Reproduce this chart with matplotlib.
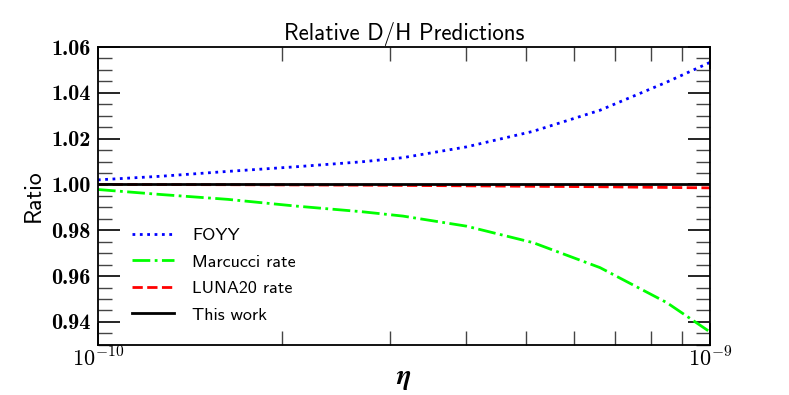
#!/usr/bin/env python3

import numpy as np
from matplotlib import pyplot as plt
from matplotlib.ticker import MultipleLocator, LogLocator, NullFormatter

plt.rcParams['mathtext.fontset'] = 'cm'
plt.rcParams['axes.unicode_minus'] = False

# eta values (baryon-to-photon ratio) and ratio readings
eta = np.array([1.0, 1.27, 1.63, 2.10, 2.70, 3.15, 4.0, 5.14, 6.61, 8.5, 10.0]) * 1e-10
foyy = [1.0020, 1.0036, 1.0057, 1.0077, 1.0099, 1.0117, 1.0164, 1.0232, 1.0324, 1.0447, 1.0533]
marcucci = [0.9978, 0.9956, 0.9935, 0.9906, 0.9881, 0.9862, 0.9818, 0.9746, 0.9637, 0.9484, 0.9356]
luna20 = [1.0000, 0.99995, 0.9999, 0.9998, 0.9997, 0.9996, 0.9994, 0.9992, 0.9990, 0.9987, 0.9985]
this_work = [1.0] * len(eta)

yticks = [0.94, 0.96, 0.98, 1.00, 1.02, 1.04, 1.06]
ytick_labels = ['%.2f' % v for v in yticks]
xticks = [1e-10, 1e-9]
xtick_labels = [r'$10^{-10}$', r'$10^{-9}$']

sans = 'cmss10'

fig, ax = plt.subplots(figsize=(7.89, 3.95), dpi=100)
fig.subplots_adjust(left=0.124, right=0.900, top=0.881, bottom=0.127)

ax.plot(eta, foyy, color='#0000ff', ls=':', lw=2, label='FOYY')
ax.plot(eta, marcucci, color='#00ff00', ls='-.', lw=2, label='Marcucci rate')
ax.plot(eta, luna20, color='#ff0000', ls='--', lw=2, label='LUNA20 rate')
ax.plot(eta, this_work, color='black', ls='-', lw=2, label='This work')

ax.set_xscale('log')
ax.set_xlim(1e-10, 1e-9)
ax.set_ylim(0.93, 1.06)
ax.set_xticks(xticks)
ax.set_xticklabels(xtick_labels, fontsize=16)
ax.xaxis.set_minor_locator(LogLocator(base=10, subs=np.arange(2, 10)))
ax.xaxis.set_minor_formatter(NullFormatter())
ax.set_yticks(yticks)
ax.set_yticklabels(ytick_labels, fontfamily='cmb10', fontsize=16)
ax.yaxis.set_minor_locator(MultipleLocator(0.005))

ax.tick_params(which='both', direction='in', top=True, right=True)
ax.tick_params(which='major', length=16, width=1.2)
ax.tick_params(axis='y', which='major', pad=5)
ax.tick_params(axis='x', which='major', pad=1)
ax.tick_params(which='minor', length=10, width=1.0, color='#444444')
for s in ax.spines.values():
    s.set_linewidth(1.3)

ax.set_title('Relative D/H Predictions', fontfamily=sans, fontsize=16.5, pad=5)
ax.set_ylabel('Ratio', fontfamily=sans, fontsize=17)
ax.yaxis.set_label_coords(-0.087, 0.5)
ax.set_xlabel(r'$\boldsymbol{\eta}$', fontsize=20)
ax.xaxis.set_label_coords(0.5, -0.065)

ax.legend(loc='lower left', bbox_to_anchor=(0.03, 0.02), frameon=False,
          prop={'family': sans, 'size': 13}, handlelength=2.3, labelspacing=0.6,
          handletextpad=1.0)

fig.savefig('out.png', dpi=100)
